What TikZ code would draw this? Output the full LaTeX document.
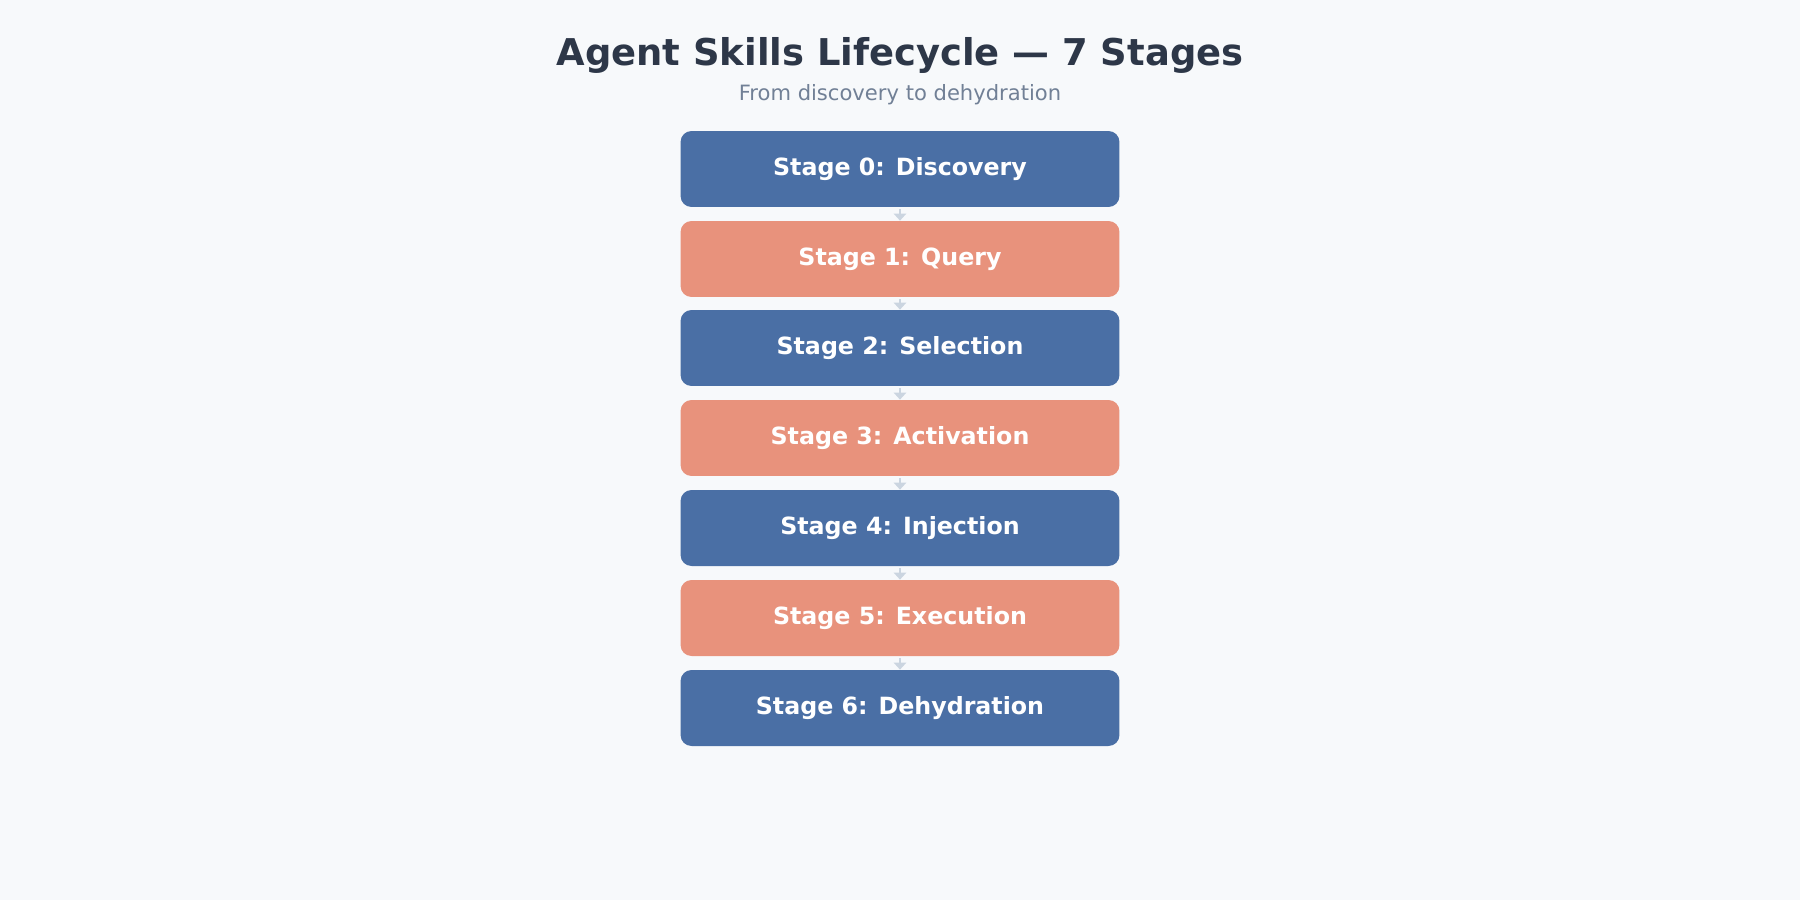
\documentclass[tikz,border=0pt]{standalone}
\usepackage{fontspec}
\setmainfont{DejaVu Sans}
\usetikzlibrary{arrows.meta}
\definecolor{bg}{HTML}{F7F9FB}
\definecolor{blu}{HTML}{4A6FA5}
\definecolor{sal}{HTML}{E8927C}
\definecolor{ttl}{HTML}{2D3748}
\definecolor{sub}{HTML}{718096}
\definecolor{arr}{HTML}{CBD5E0}
\begin{document}
\begin{tikzpicture}[x=0.02cm,y=-0.02cm,
  stagebox/.style={rounded corners=0.22cm,minimum width=8.78cm,minimum height=1.52cm,text=white,font=\fontsize{13.5}{16}\selectfont\bfseries,inner sep=0pt},
  bluebox/.style={stagebox,fill=blu},
  salbox/.style={stagebox,fill=sal},
  flow/.style={draw=arr,line width=1.6pt,-{Triangle[length=4pt,width=7pt]}}]
\fill[bg] (0,0) rectangle (1800,900);
\node[font=\fontsize{21}{25}\selectfont\bfseries,text=ttl] (t) at (900,55) {Agent Skills Lifecycle — 7 Stages};
\node[font=\fontsize{12}{14}\selectfont,text=sub] (s) at (900,95) {From discovery to dehydration};
\node[bluebox] (b0) at (900,169) {Stage 0: Discovery};
\node[salbox] (b1) at (900,259) {Stage 1: Query};
\node[bluebox] (b2) at (900,348) {Stage 2: Selection};
\node[salbox] (b3) at (900,438) {Stage 3: Activation};
\node[bluebox] (b4) at (900,528) {Stage 4: Injection};
\node[salbox] (b5) at (900,618) {Stage 5: Execution};
\node[bluebox] (b6) at (900,708) {Stage 6: Dehydration};
\foreach \a/\b in {b0/b1,b1/b2,b2/b3,b3/b4,b4/b5,b5/b6}
  \draw[flow] ([yshift=-1pt]\a.south) -- (\b.north);
\end{tikzpicture}
\end{document}
